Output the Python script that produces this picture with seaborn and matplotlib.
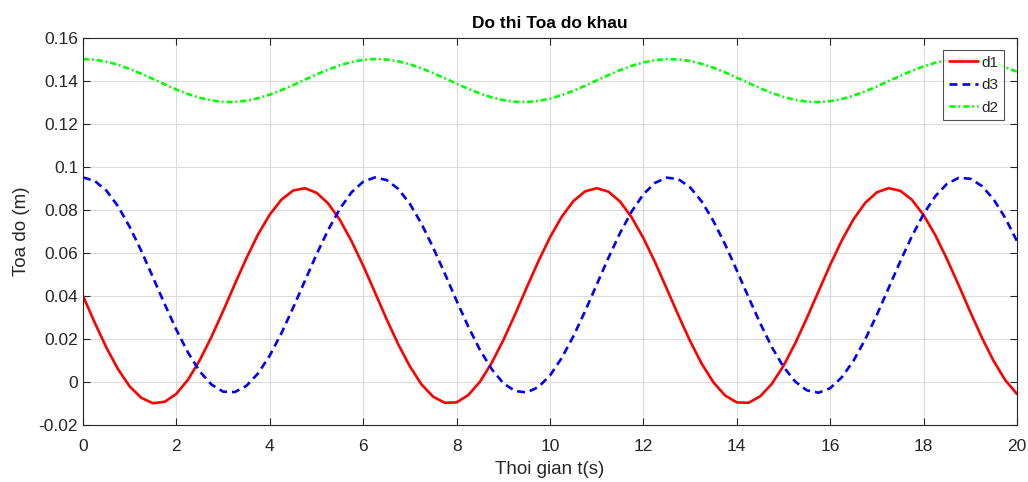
import numpy as np
import pandas as pd
import matplotlib
matplotlib.use("Agg")
import matplotlib.pyplot as plt
import seaborn as sns

t = [i * 0.25 for i in range(81)]

d1 = [0.0400, 0.0276, 0.0160, 0.0059, -0.0021, -0.0074, -0.0099, -0.0092, -0.0055, 0.0011,
      0.0101, 0.0209, 0.0329, 0.0454, 0.0575, 0.0686, 0.0778, 0.0847, 0.0889, 0.0900,
      0.0879, 0.0829, 0.0753, 0.0654, 0.0540, 0.0417, 0.0292, 0.0175, 0.0072, -0.0012,
      -0.0069, -0.0097, -0.0095, -0.0061, 0.0001, 0.0088, 0.0194, 0.0313, 0.0438, 0.0560,
      0.0672, 0.0767, 0.0840, 0.0885, 0.0900, 0.0884, 0.0838, 0.0764, 0.0668, 0.0556,
      0.0433, 0.0309, 0.0190, 0.0084, -0.0002, -0.0063, -0.0095, -0.0097, -0.0067, -0.0009,
      0.0075, 0.0179, 0.0297, 0.0421, 0.0544, 0.0658, 0.0756, 0.0832, 0.0881, 0.0900,
      0.0888, 0.0846, 0.0775, 0.0682, 0.0571, 0.0450, 0.0325, 0.0205, 0.0097, 0.0008,
      -0.0056]

d3 = [0.0950, 0.0934, 0.0889, 0.0816, 0.0720, 0.0608, 0.0485, 0.0361, 0.0242, 0.0136,
      0.0049, -0.0012, -0.0045, -0.0047, -0.0018, 0.0040, 0.0123, 0.0227, 0.0345, 0.0469,
      0.0592, 0.0706, 0.0804, 0.0881, 0.0930, 0.0950, 0.0938, 0.0897, 0.0827, 0.0734,
      0.0623, 0.0502, 0.0377, 0.0257, 0.0149, 0.0060, -0.0006, -0.0042, -0.0049, -0.0024,
      0.0030, 0.0111, 0.0212, 0.0328, 0.0452, 0.0576, 0.0692, 0.0792, 0.0872, 0.0925,
      0.0949, 0.0942, 0.0904, 0.0838, 0.0747, 0.0639, 0.0518, 0.0394, 0.0273, 0.0162,
      0.0070, 0.0002, -0.0039, -0.0050, -0.0029, 0.0022, 0.0099, 0.0198, 0.0312, 0.0436,
      0.0560, 0.0677, 0.0780, 0.0863, 0.0920, 0.0948, 0.0944, 0.0910, 0.0848, 0.0761,
      0.0654]

d2 = [0.15000, 0.14969, 0.14878, 0.14732, 0.14540, 0.14315, 0.14071, 0.13822, 0.13584, 0.13372,
      0.13199, 0.13076, 0.13010, 0.13006, 0.13064, 0.13179, 0.13346, 0.13554, 0.13789, 0.14038,
      0.14284, 0.14512, 0.14709, 0.14861, 0.14960, 0.14999, 0.14977, 0.14893, 0.14754, 0.14568,
      0.14347, 0.14104, 0.13855, 0.13614, 0.13398, 0.13219, 0.13089, 0.13015, 0.13003, 0.13052,
      0.13161, 0.13322, 0.13524, 0.13757, 0.14004, 0.14252, 0.14483, 0.14685, 0.14844, 0.14950,
      0.14998, 0.14983, 0.14907, 0.14775, 0.14595, 0.14378, 0.14137, 0.13887, 0.13645, 0.13425,
      0.13240, 0.13103, 0.13022, 0.13001, 0.13042, 0.13143, 0.13298, 0.13496, 0.13725, 0.13971,
      0.14219, 0.14454, 0.14660, 0.14826, 0.14940, 0.14995, 0.14989, 0.14921, 0.14796, 0.14621,
      0.14408]

x_ticks = [0, 2, 4, 6, 8, 10, 12, 14, 16, 18, 20]
y_ticks = [-0.02, 0, 0.02, 0.04, 0.06, 0.08, 0.1, 0.12, 0.14, 0.16]
y_tick_labels = ["-0.02", "0", "0.02", "0.04", "0.06", "0.08", "0.1", "0.12", "0.14", "0.16"]

sns.set_theme(style="white")
plt.rcParams['font.family'] = ['Liberation Sans', 'DejaVu Sans']

fig = plt.figure(figsize=(10.28, 4.82), dpi=100)
ax = fig.add_axes([83/1028, 1 - 425/482, (1017-83)/1028, (425-37.5)/482])

df = pd.DataFrame({"t": t, "d1": d1, "d3": d3, "d2": d2})
sns.lineplot(data=df, x="t", y="d1", ax=ax, color="#ff0000", lw=1.9, label="d1")
sns.lineplot(data=df, x="t", y="d3", ax=ax, color="#0000ff", lw=1.9, label="d3",
             linestyle=(0, (3.0, 1.9)))
sns.lineplot(data=df, x="t", y="d2", ax=ax, color="#00ff00", lw=1.9, label="d2",
             linestyle=(0, (2.3, 1.1, 0.7, 1.1)))
for ln in ax.get_lines():
    ln.set_solid_joinstyle("round")
    ln.set_dash_joinstyle("round")

ax.set_xlim(0, 20)
ax.set_ylim(-0.02, 0.16)
ax.set_xticks(x_ticks)
ax.set_xticklabels([str(v) for v in x_ticks])
ax.set_yticks(y_ticks)
ax.set_yticklabels(y_tick_labels)
ax.grid(True, color="#dcdcdc", lw=0.8)
ax.tick_params(direction="in", length=5, width=0.8, colors="#262626", labelsize=12.5,
               top=True, right=True, bottom=True, left=True)
ax.tick_params(axis="x", pad=10)
for s in ax.spines.values():
    s.set_color("#262626")
    s.set_linewidth(0.8)

ax.set_title("Do thi Toa do khau", fontsize=12.5, fontweight="bold", color="black", pad=7)
ax.set_xlabel("Thoi gian t(s)", fontsize=13.5, color="#262626", labelpad=5)
ax.set_ylabel("Toa do (m)", fontsize=13.5, color="#262626", labelpad=6)

leg = ax.legend(loc="upper right", fontsize=11, frameon=True, fancybox=False,
                edgecolor="#262626", borderpad=0.35, labelspacing=0.55, handlelength=1.9,
                handletextpad=0.25, borderaxespad=0.85)
leg.get_frame().set_linewidth(0.8)

fig.savefig("out.png", dpi=100)
